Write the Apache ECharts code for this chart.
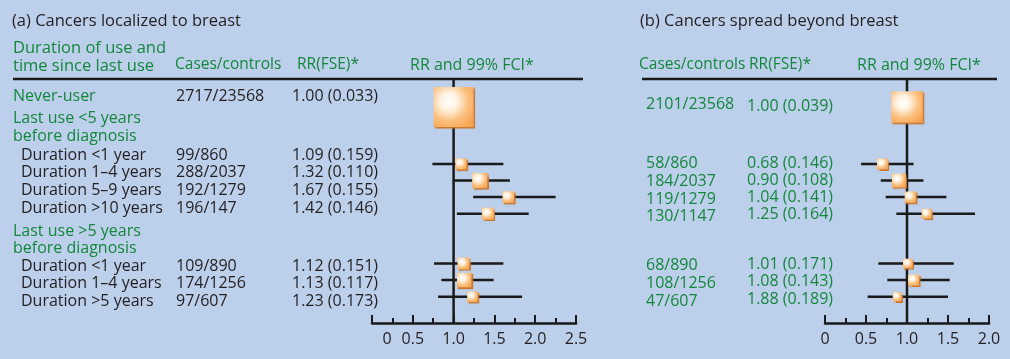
<!DOCTYPE html>
<html>
<head>
<meta charset="utf-8">
<script src="https://cdn.jsdelivr.net/npm/echarts@6/dist/echarts.min.js"></script>
<style>
html,body{margin:0;padding:0;background:#bccfeb;}
#c{width:1010px;height:359px;}
</style>
</head>
<body>
<div id="c"></div>
<script>
// ---------------- data ----------------
// table rows of panel (a): left-hand text column
const rowLabelsA = ['Never-user', 'Last use <5 years', 'before diagnosis',
  'Duration <1 year', 'Duration 1–4 years', 'Duration 5–9 years', 'Duration >10 years',
  'Last use >5 years', 'before diagnosis',
  'Duration <1 year', 'Duration 1–4 years', 'Duration >5 years'];
const rowIsHeaderA = [true, true, true, false, false, false, false, true, true, false, false, false];

// table row number (13-row table incl. group heading rows) of each estimate
const rowIndex = [0, 4, 5, 6, 7, 10, 11, 12];

// reference value (RR = 1)
const refRR = [1.0];

// panel (a) cancers localized to breast
const casesA  = ['2717/23568', '99/860', '288/2037', '192/1279', '196/147', '109/890', '174/1256', '97/607'];
const rrTextA = ['1.00 (0.033)', '1.09 (0.159)', '1.32 (0.110)', '1.67 (0.155)', '1.42 (0.146)', '1.12 (0.151)', '1.13 (0.117)', '1.23 (0.173)'];
const rrA  = [1.00, 1.09, 1.32, 1.67, 1.42, 1.12, 1.13, 1.23];
const fseA = [0.033, 0.159, 0.110, 0.155, 0.146, 0.151, 0.117, 0.173];
const loA  = [0.92, 0.74, 0.99, 1.24, 1.04, 0.76, 0.85, 0.81];
const hiA  = [1.09, 1.61, 1.69, 2.25, 1.92, 1.61, 1.49, 1.84];

// panel (b) cancers spread beyond breast
const casesB  = ['2101/23568', '58/860', '184/2037', '119/1279', '130/1147', '68/890', '108/1256', '47/607'];
const rrTextB = ['1.00 (0.039)', '0.68 (0.146)', '0.90 (0.108)', '1.04 (0.141)', '1.25 (0.164)', '1.01 (0.171)', '1.08 (0.143)', '1.88 (0.189)'];
const rrB  = [1.00, 0.70, 0.90, 1.04, 1.24, 1.01, 1.08, 0.88];
const fseB = [0.039, 0.146, 0.108, 0.141, 0.164, 0.171, 0.143, 0.189];
const loB  = [0.90, 0.44, 0.68, 0.74, 0.87, 0.65, 0.76, 0.52];
const hiB  = [1.10, 1.08, 1.20, 1.48, 1.83, 1.57, 1.52, 1.50];

// axis tick labels
const ticksA = ['0', '0.5', '1.0', '1.5', '2.0', '2.5'];
const ticksB = ['0', '0.5', '1.0', '1.5', '2.0'];

const titleA = '(a) Cancers localized to breast';
const titleB = '(b) Cancers spread beyond breast';
const headDur = ['Duration of use and', 'time since last use'];
const headCases = 'Cases/controls';
const headRR = 'RR(FSE)*';
const headCI = 'RR and 99% FCI*';

// ---------------- layout / style ----------------
const FONT = '"Open Sans", "Noto Sans", sans-serif';
const GREEN = '#14873c';
const DARK = '#231f20';
const INK = '#1a1a1a';
const labelYA = [96, 118, 136, 155, 172.7, 190.7, 208.3, 231, 248, 266, 283.5, 301.5];
const textYA  = [96, 155, 172.7, 190.7, 208.3, 266, 283.5, 301.5];
const casesYB = [104.5, 163.5, 181.5, 199, 216.5, 265, 283, 301.5];
const rrYB    = [106.5, 163.5, 180.5, 197.3, 214, 264, 281, 299];

function txt(x, y, s, color, size) {
  return {
    type: 'text', x: x, y: y, silent: true,
    style: { text: s, fill: color, font: size + 'px ' + FONT,
      textAlign: 'left', align: 'left', textVerticalAlign: 'middle', verticalAlign: 'middle' }
  };
}
function hline(x1, x2, y) {
  return { type: 'line', silent: true, shape: { x1: x1, y1: y, x2: x2, y2: y },
    style: { stroke: INK, lineWidth: 2.5 } };
}

const graphic = [];
graphic.push(txt(12, 21, titleA, DARK, 16.5));
graphic.push(txt(640, 21, titleB, DARK, 16.5));
graphic.push(txt(13, 48, headDur[0], GREEN, 16.5));
graphic.push(txt(13, 66, headDur[1], GREEN, 16.5));
graphic.push(txt(175, 65, headCases, GREEN, 15.5));
graphic.push(txt(297, 65, headRR, GREEN, 15.5));
graphic.push(txt(410, 65, headCI, GREEN, 16));
graphic.push(txt(639, 65, headCases, GREEN, 15.5));
graphic.push(txt(749, 65, headRR, GREEN, 15.5));
graphic.push(txt(857, 65, headCI, GREEN, 16));
graphic.push(hline(13, 583, 79));
graphic.push(hline(642, 997, 79));
rowLabelsA.forEach((s, i) => {
  const isHead = rowIsHeaderA[i];
  graphic.push(txt(isHead ? 13 : 21, labelYA[i], s, isHead ? GREEN : DARK, 16));
});
casesA.forEach((s, i) => graphic.push(txt(176, textYA[i], s, DARK, 16)));
rrTextA.forEach((s, i) => graphic.push(txt(292, textYA[i], s, DARK, 16)));
casesB.forEach((s, i) => graphic.push(txt(646, casesYB[i], s, GREEN, 16)));
rrTextB.forEach((s, i) => graphic.push(txt(747, rrYB[i], s, GREEN, 16)));

const boxColor = {
  type: 'radial', x: 0.38, y: 0.36, r: 0.8,
  colorStops: [
    { offset: 0, color: '#ffffff' },
    { offset: 0.28, color: '#fff1df' },
    { offset: 0.62, color: '#fbbf7c' },
    { offset: 1, color: '#f6a24e' }
  ]
};

function boxSize(fse, c) { return c * Math.pow(fse, -0.8); }

function refSeries(idx) {
  return {
    type: 'custom', xAxisIndex: idx, yAxisIndex: idx, z: 1, silent: true,
    data: refRR.map(v => [v]),
    encode: { x: 0 },
    renderItem: function (params, api) {
      const cs = params.coordSys;
      const x = api.coord([api.value(0), 0])[0];
      return { type: 'line', shape: { x1: x, y1: cs.y, x2: x, y2: cs.y + cs.height },
        style: { stroke: INK, lineWidth: 2.5 } };
    }
  };
}
function ciSeries(idx, lo, hi) {
  return {
    type: 'custom', xAxisIndex: idx, yAxisIndex: idx, z: 2, silent: true,
    data: lo.map((v, i) => [v, hi[i], rowIndex[i]]),
    encode: { x: [0, 1], y: 2 },
    renderItem: function (params, api) {
      const a = api.coord([api.value(0), api.value(2)]);
      const b = api.coord([api.value(1), api.value(2)]);
      return { type: 'line', shape: { x1: a[0], y1: a[1], x2: b[0], y2: b[1] },
        style: { stroke: INK, lineWidth: 2.5 } };
    }
  };
}
function boxSeries(idx, rr, fse, c) {
  return {
    type: 'scatter', xAxisIndex: idx, yAxisIndex: idx, z: 4, silent: true,
    symbol: 'rect',
    data: rr.map((v, i) => {
      const d = { value: [v, rowIndex[i]], symbolSize: boxSize(fse[i], c) };
      if (i === 0) d.symbolOffset = [0, 9.5];
      return d;
    }),
    itemStyle: {
      color: boxColor, opacity: 1,
      shadowColor: 'rgba(200,115,40,0.95)', shadowOffsetX: 1.5, shadowOffsetY: 1.5, shadowBlur: 1
    }
  };
}

function xAxisOf(idx, max, ticks, shiftZero) {
  return {
    gridIndex: idx, type: 'value', min: 0, max: max, interval: 0.5,
    axisLine: { show: true, onZero: false, lineStyle: { color: INK, width: 2.5 } },
    axisTick: { show: true, inside: true, length: 8, lineStyle: { color: INK, width: 2 } },
    minorTick: { show: true, splitNumber: 2, length: 5, lineStyle: { color: INK, width: 2 } },
    splitLine: { show: false }, minorSplitLine: { show: false },
    axisLabel: {
      margin: 8, color: DARK, fontSize: 16, fontFamily: FONT,
      formatter: function (v) {
        const s = ticks[Math.round(v / 0.5)];
        return (shiftZero && v === 0) ? '{z|' + s + '}' : s;
      },
      rich: { z: { padding: [0, 0, 0, 30], color: DARK, fontSize: 16, fontFamily: FONT } }
    }
  };
}
const yMin = -(97.5 - 79) / 16.6;
const yMax = yMin + 244 / 16.6;
function yAxisOf(idx) {
  return { gridIndex: idx, type: 'value', inverse: true, min: yMin, max: yMax, show: false };
}

const chart = echarts.init(document.getElementById('c'), null, { renderer: 'canvas' });
chart.setOption({
  backgroundColor: '#bccfeb',
  animation: false,
  textStyle: { fontFamily: FONT },
  grid: [
    { left: 372, top: 79, width: 204, height: 244 },
    { left: 825, top: 79, width: 164, height: 244 }
  ],
  xAxis: [xAxisOf(0, 2.5, ticksA, true), xAxisOf(1, 2.0, ticksB, false)],
  yAxis: [yAxisOf(0), yAxisOf(1)],
  graphic: graphic,
  series: [
    refSeries(0), ciSeries(0, loA, hiA), boxSeries(0, rrA, fseA, 2.6),
    refSeries(1), ciSeries(1, loB, hiB), boxSeries(1, rrB, fseB, 2.35)
  ]
});
</script>
</body>
</html>
